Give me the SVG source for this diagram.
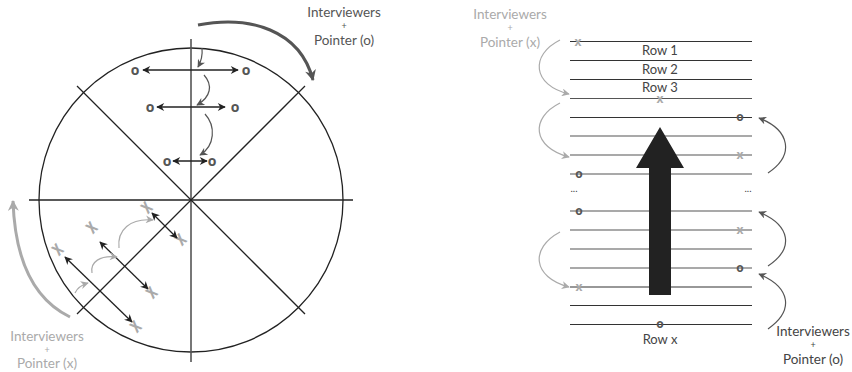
<svg xmlns="http://www.w3.org/2000/svg" width="852" height="372" viewBox="0 0 852 372">
<style>
.ln{stroke:#222;stroke-width:1.3;fill:none}
.row{stroke:#333;stroke-width:1.2}
.rowg{stroke:#555;stroke-width:1.2}
.dbl{stroke:#222;stroke-width:1.3;fill:none;marker-start:url(#hb);marker-end:url(#hb)}
.cd{stroke:#555;stroke-width:1.2;fill:none;marker-end:url(#hd)}
.cg{stroke:#aaa;stroke-width:1.2;fill:none;marker-end:url(#hg)}
.t{font-family:Lato,"Open Sans","Liberation Sans",sans-serif;font-size:13.5px;text-anchor:middle}
.r{font-size:13px}
.p{font-size:9px}
.mo{font-family:"Open Sans","Liberation Sans",sans-serif;font-size:14px;font-weight:bold;fill:#555;text-anchor:middle}
.mx{font-family:"Open Sans","Liberation Sans",sans-serif;font-size:12px;font-weight:bold;fill:#aaa;text-anchor:middle}
.mxr{font-family:"Open Sans","Liberation Sans",sans-serif;font-size:16px;font-weight:bold;fill:#aaa;text-anchor:middle}
.so{font-family:"Open Sans","Liberation Sans",sans-serif;font-size:12px;font-weight:bold;fill:#555;text-anchor:middle}
</style>
<defs>
<marker id="hb" viewBox="0 0 10 10" refX="9" refY="5" markerWidth="10" markerHeight="8" markerUnits="userSpaceOnUse" orient="auto-start-reverse"><path d="M0,0 L10,5 L0,10 L3,5 Z" fill="#222"/></marker>
<marker id="hd" viewBox="0 0 10 10" refX="9" refY="5" markerWidth="9" markerHeight="8" markerUnits="userSpaceOnUse" orient="auto"><path d="M0,0 L10,5 L0,10 L3,5 Z" fill="#555"/></marker>
<marker id="hg" viewBox="0 0 10 10" refX="9" refY="5" markerWidth="9" markerHeight="8" markerUnits="userSpaceOnUse" orient="auto"><path d="M0,0 L10,5 L0,10 L3,5 Z" fill="#aaa"/></marker>
<marker id="hbd" viewBox="0 0 10 10" refX="9" refY="5" markerWidth="13" markerHeight="11" markerUnits="userSpaceOnUse" orient="auto"><path d="M0,0 L10,5 L0,10 L3,5 Z" fill="#555"/></marker>
<marker id="hbg" viewBox="0 0 10 10" refX="9" refY="5" markerWidth="13" markerHeight="11" markerUnits="userSpaceOnUse" orient="auto"><path d="M0,0 L10,5 L0,10 L3,5 Z" fill="#aaa"/></marker>
</defs>

<g id="circle-diagram">
<circle cx="191" cy="200" r="152" class="ln"/>
<line x1="29" y1="200" x2="353" y2="200" class="ln"/>
<line x1="191" y1="39" x2="191" y2="362" stroke="#555" stroke-width="1.6"/>
<line x1="77" y1="86" x2="305" y2="314" class="ln"/>
<line x1="305" y1="86" x2="77" y2="314" class="ln"/>
</g>

<g id="o-pairs">
<text x="135" y="75" class="mo">o</text><text x="246" y="75" class="mo">o</text>
<text x="150" y="112" class="mo">o</text><text x="235" y="112" class="mo">o</text>
<text x="167" y="166" class="mo">o</text><text x="212" y="166" class="mo">o</text>
</g>

<g id="x-pairs">
<text class="mxr" transform="translate(147,208) rotate(-45) scale(0.85,1.35)" y="4">x</text>
<text class="mxr" transform="translate(181,240) rotate(-45) scale(0.85,1.35)" y="4">x</text>
<text class="mxr" transform="translate(92,228) rotate(-45) scale(0.85,1.35)" y="4">x</text>
<text class="mxr" transform="translate(152,293) rotate(-45) scale(0.85,1.35)" y="4">x</text>
<text class="mxr" transform="translate(58,250) rotate(-45) scale(0.85,1.35)" y="4">x</text>
<text class="mxr" transform="translate(136,327) rotate(-45) scale(0.85,1.35)" y="4">x</text>
</g>

<g id="label-o-left">
<text class="t" fill="#555"><tspan x="344" y="17">Interviewers</tspan><tspan x="344" y="29" class="p">+</tspan><tspan x="344" y="44.5">Pointer (o)</tspan></text>
</g>
<g id="label-x-left">
<text class="t" fill="#aaa"><tspan x="47" y="341">Interviewers</tspan><tspan x="47" y="353" class="p">+</tspan><tspan x="47" y="368">Pointer (x)</tspan></text>
</g>

<g id="rows">
<line x1="570" y1="41.5" x2="752" y2="41.5" class="row"/>
<line x1="570" y1="60.5" x2="752" y2="60.5" class="row"/>
<line x1="570" y1="79.5" x2="752" y2="79.5" class="row"/>
<line x1="570" y1="98.5" x2="752" y2="98.5" class="rowg"/>
<line x1="570" y1="117.5" x2="752" y2="117.5" class="row"/>
<line x1="570" y1="136" x2="752" y2="136" class="rowg"/>
<line x1="570" y1="155" x2="752" y2="155" class="rowg"/>
<line x1="570" y1="174" x2="752" y2="174" class="rowg"/>
<line x1="570" y1="211" x2="752" y2="211" class="rowg"/>
<line x1="570" y1="230" x2="752" y2="230" class="rowg"/>
<line x1="570" y1="249" x2="752" y2="249" class="rowg"/>
<line x1="570" y1="268" x2="752" y2="268" class="rowg"/>
<line x1="570" y1="287" x2="752" y2="287" class="row"/>
<line x1="570" y1="305.5" x2="752" y2="305.5" class="row"/>
<line x1="570" y1="324.5" x2="752" y2="324.5" class="row"/>
<text class="t r" fill="#444" x="660" y="54.5">Row 1</text>
<text class="t r" fill="#444" x="660" y="73.5">Row 2</text>
<text class="t r" fill="#444" x="660" y="92">Row 3</text>
<text class="t r" fill="#444" x="660" y="344">Row x</text>
<text class="t" fill="#444" x="574" y="192" style="font-size:10px">...</text>
<text class="t" fill="#444" x="748" y="192" style="font-size:10px">...</text>
</g>

<g id="big-arrow">
<path d="M660,127 L684,168 L671,168 L671,295 L649,295 L649,168 L636,168 Z" fill="#222"/>
</g>

<g id="row-markers">
<text x="578" y="46" class="mx">x</text>
<text x="660" y="103" class="mx">x</text>
<text x="740" y="121" class="so">o</text>
<text x="740" y="159" class="mx">x</text>
<text x="579" y="178" class="so">o</text>
<text x="579" y="215" class="so">o</text>
<text x="740" y="234" class="mx">x</text>
<text x="740" y="272" class="so">o</text>
<text x="579" y="291" class="mx">x</text>
<text x="660" y="328" class="so">o</text>
</g>

<g id="label-x-right">
<text class="t" fill="#aaa"><tspan x="510" y="19">Interviewers</tspan><tspan x="510" y="31" class="p">+</tspan><tspan x="510" y="46.5">Pointer (x)</tspan></text>
</g>
<g id="label-o-right">
<text class="t" fill="#444"><tspan x="813" y="336">Interviewers</tspan><tspan x="813" y="348" class="p">+</tspan><tspan x="813" y="363.5">Pointer (o)</tspan></text>
</g>

<g id="connectors">
<line x1="143" y1="70" x2="238" y2="70" class="dbl"/>
<line x1="157" y1="107" x2="225" y2="107" class="dbl"/>
<line x1="173" y1="161" x2="207" y2="161" class="dbl"/>
<line x1="152" y1="213" x2="177" y2="238" class="dbl"/>
<line x1="100" y1="242" x2="148" y2="289" class="dbl"/>
<line x1="65" y1="257" x2="132" y2="322" class="dbl"/>
<path d="M202,48 Q203,58 198,67" class="cd"/>
<path d="M204,75 C213,85 211,97 197,105" class="cd"/>
<path d="M205,114 C216,126 215,146 200,155" class="cd"/>
<path d="M198,25 C250,15 300,30 313,80" stroke="#555" stroke-width="3" fill="none" marker-end="url(#hbd)"/>
<path d="M70,317 C35,300 15,262 13,201" stroke="#aaa" stroke-width="3" fill="none" marker-end="url(#hbg)"/>
<path d="M75,293 Q78,286 88,283" class="cg"/>
<path d="M92,273 C90,262 100,255 117,257" class="cg"/>
<path d="M119,248 C117,230 130,218 153,220" class="cg"/>
<path d="M560,40 C530,55 532,85 569,94" class="cg"/>
<path d="M560,103 C530,118 532,147 569,157" class="cg"/>
<path d="M560,232 C530,248 532,277 569,287" class="cg"/>
<path d="M768,173 C795,155 790,130 759,118" class="cd"/>
<path d="M768,266 C795,248 790,225 759,212" class="cd"/>
<path d="M768,329 C795,310 790,287 759,274" class="cd"/>
</g>
</svg>
